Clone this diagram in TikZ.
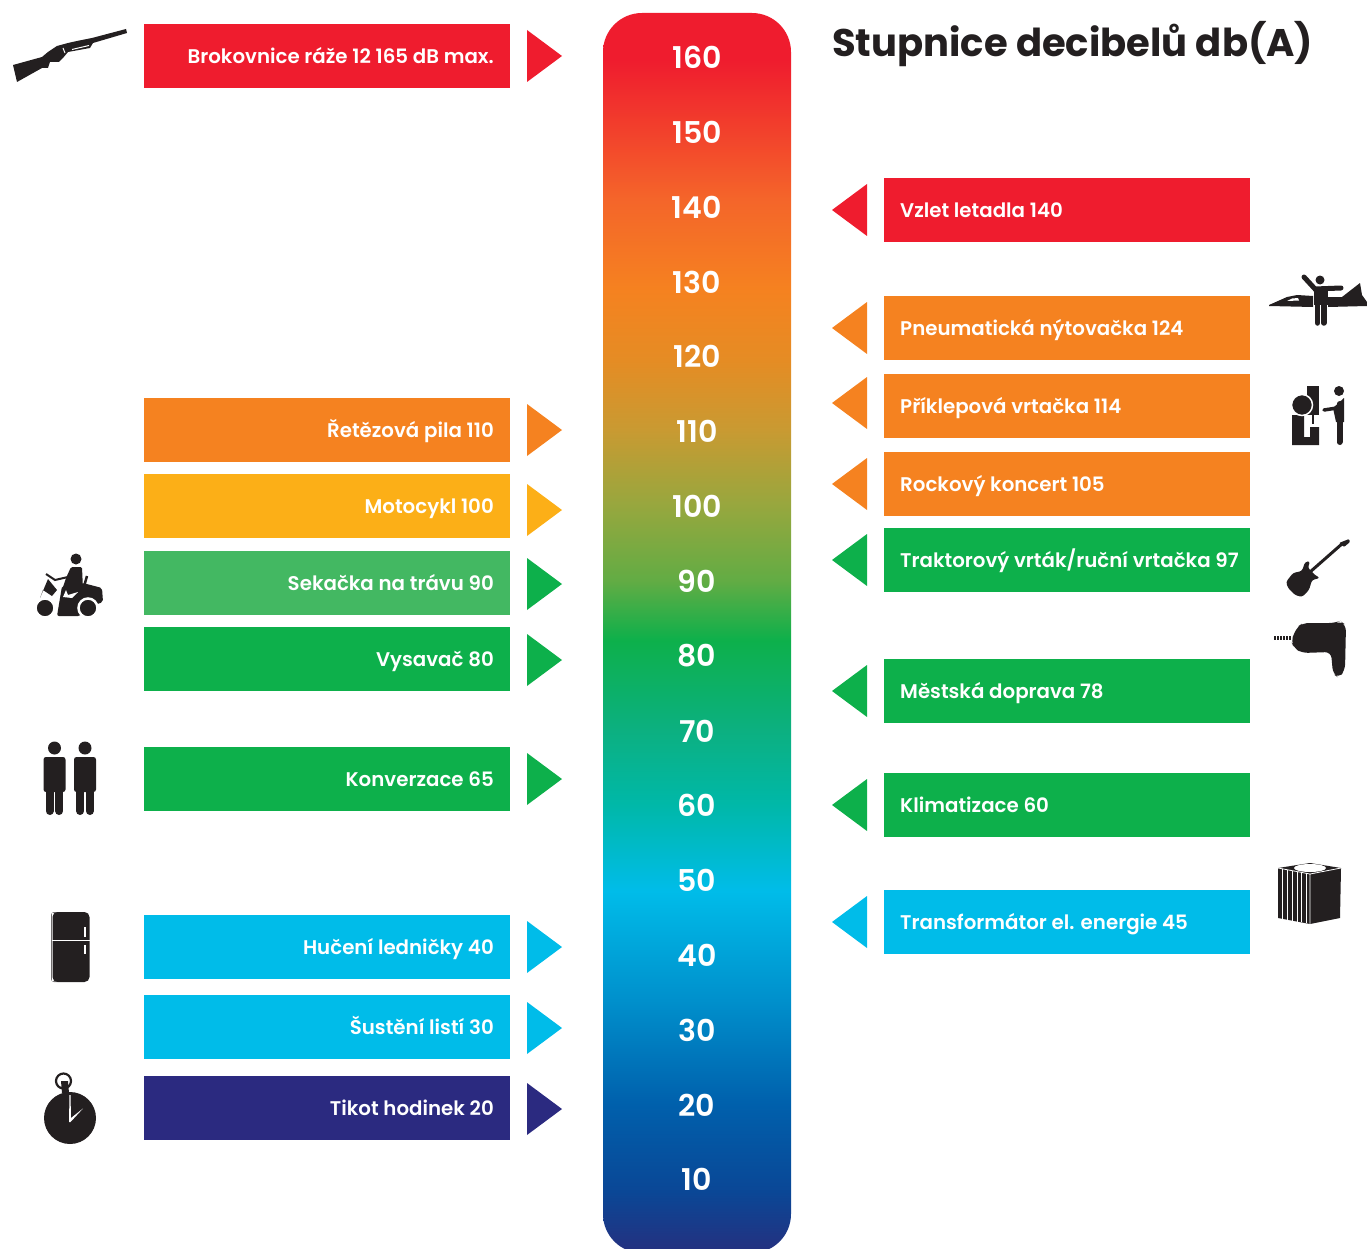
\documentclass[tikz,border=0pt]{standalone}
\usepackage{fontspec}
\setmainfont{Poppins}[BoldFont={Poppins SemiBold}]
\newfontfamily\titlefont{Poppins}[BoldFont={Poppins Bold}]
\definecolor{cred}{HTML}{EF1C2E}
\definecolor{corange}{HTML}{F58220}
\definecolor{cyellow}{HTML}{FCAF17}
\definecolor{clgreen}{HTML}{43B862}
\definecolor{cgreen}{HTML}{0DB04B}
\definecolor{ccyan}{HTML}{00BCE9}
\definecolor{cnavy}{HTML}{2B2A80}
\definecolor{cink}{HTML}{231F20}
\definecolor{g1}{HTML}{F2402C}
\definecolor{g2}{HTML}{F4652A}
\definecolor{g3}{HTML}{E58C24}
\definecolor{g4}{HTML}{C99A32}
\definecolor{g5}{HTML}{98A73E}
\definecolor{g6}{HTML}{62AC44}
\definecolor{g7}{HTML}{0CB080}
\definecolor{g8}{HTML}{00B8A8}
\definecolor{g9}{HTML}{0090CC}
\definecolor{g10}{HTML}{0060AC}
\definecolor{g11}{HTML}{0A4796}
\definecolor{g12}{HTML}{25307F}
\pgfdeclareverticalshading{scalebar}{100bp}{
color(0bp)=(g12);
color(25bp)=(g12);
color(27.5bp)=(g11);
color(31bp)=(g10);
color(35.2bp)=(g9);
color(39.6bp)=(ccyan);
color(43.1bp)=(g8);
color(46.1bp)=(g7);
color(49.7bp)=(cgreen);
color(52.1bp)=(g6);
color(55.2bp)=(g5);
color(58.2bp)=(g4);
color(61bp)=(g3);
color(63.8bp)=(corange);
color(67.5bp)=(g2);
color(70.3bp)=(g1);
color(73.1bp)=(cred);
color(100bp)=(cred)}
\tikzset{
 lbl/.style={font=\bfseries\fontsize{19.8}{24}\selectfont,text=white,inner sep=0pt},
 num/.style={font=\bfseries\fontsize{30}{32}\selectfont,text=white,inner sep=0pt},
 barbox/.style={minimum width=366pt,minimum height=64pt,inner sep=0pt,anchor=north west},
}
% name, y top, colour, text, triangle centre y, triangle colour
\newcommand{\lbar}[6]{%
 \node[barbox,fill=#3] (#1) at (144,#2) {};
 \node[lbl,anchor=base east] (#1t) at (494,#2+39.7) {#4};
 \fill[#6] (527,#5-26) -- (562,#5) -- (527,#5+26) -- cycle;
}
\newcommand{\rbar}[5]{%
 \node[barbox,fill=#3] (#1) at (884,#2) {};
 \node[lbl,anchor=base west] (#1t) at (900,#2+39.7) {#4};
 \fill[#3] (867,#5-26) -- (832,#5) -- (867,#5+26) -- cycle;
}
\begin{document}
\begin{tikzpicture}[x=1pt,y=-1pt]
\useasboundingbox (0,0) rectangle (1367,1249);
\begin{scope}
\clip (0,0) rectangle (1367,1249);
\shade[shading=scalebar,rounded corners=39pt] (603,13) rectangle (791,1253);
\end{scope}
\foreach \v/\y in {160/57,150/132,140/207,130/282,120/356,110/431,100/506,90/581,80/656,70/731,60/805,50/880,40/955,30/1030,20/1105,10/1179}
 \node[num] (n\v) at (697,\y) {\v};
\node[font=\titlefont\bfseries\fontsize{38.5}{46}\selectfont,text=cink,anchor=base west,inner sep=0pt] (title) at (832,56.5) {Stupnice decibelů db(A)};
\lbar{a}{24}{cred}{Brokovnice ráže 12 165 dB max.}{56}{cred}
\lbar{b}{398}{corange}{Řetězová pila 110}{430}{corange}
\lbar{c}{474}{cyellow}{Motocykl 100}{510}{cyellow}
\lbar{d}{551}{clgreen}{Sekačka na trávu 90}{584}{cgreen}
\lbar{e}{627}{cgreen}{Vysavač 80}{660}{cgreen}
\lbar{f}{747}{cgreen}{Konverzace 65}{779}{cgreen}
\lbar{g}{915}{ccyan}{Hučení ledničky 40}{947}{ccyan}
\lbar{h}{995}{ccyan}{Šustění listí 30}{1028}{ccyan}
\lbar{i}{1076}{cnavy}{Tikot hodinek 20}{1109}{cnavy}
\rbar{p}{178}{cred}{Vzlet letadla 140}{210}
\rbar{q}{296}{corange}{Pneumatická nýtovačka 124}{328}
\rbar{r}{374}{corange}{Příklepová vrtačka 114}{403}
\rbar{s}{452}{corange}{Rockový koncert 105}{484}
\rbar{t}{528}{cgreen}{Traktorový vrták/ruční vrtačka 97}{560}
\rbar{u}{659}{cgreen}{Městská doprava 78}{691}
\rbar{v}{773}{cgreen}{Klimatizace 60}{805}
\rbar{w}{890}{ccyan}{Transformátor el. energie 45}{922}
% shotgun
\fill[cink] (13,65) -- (17,82) -- (42,68) -- (48,68) -- (50,62) -- (54,62) -- (59,62) -- (63,58) -- (68,52) -- (90,48) -- (93,43) -- (127,33) -- (126,29) -- (92,38) -- (77,41) -- (68,43) -- (57,46) -- (48,52) -- (42,57) -- cycle;
\draw[white,line width=1pt] (63,48) -- (65,53) (72,49.5) -- (89,45.5);
% jet + man
\fill[cink] (1269,305) -- (1287,297) -- (1297,295) -- (1313,296) -- (1313,307) -- (1269,306) -- cycle;
\fill[cink] (1328,297) -- (1342,297) -- (1360,283) -- (1362,295) -- (1367,302) -- (1367,306) -- (1328,307) -- cycle;
\fill[white] (1287,301) -- (1292,298.5) -- (1298,298) -- (1299,300.5) -- cycle;
\fill[cink] (1320,280) circle (4.5);
\draw[cink,line width=5pt,line cap=round] (1304,277) -- (1315,289) -- (1341,288);
\fill[cink] (1314,287) rectangle (1328,305);
\draw[cink,line width=5.5pt,line cap=round] (1317.5,304) -- (1317.5,323) (1323.8,304) -- (1323.8,323);
% hammer drill
\fill[cink] (1307,386) rectangle (1319,415);
\fill[cink] (1292,415) -- (1304,415) -- (1304,437) -- (1310,437) -- (1310,427) -- (1319,427) -- (1319,445) -- (1292,445) -- cycle;
\draw[white,line width=1.5pt,fill=cink] (1302,405) circle (10.5);
\fill[cink] (1312,415) rectangle (1314,424);
\fill[cink] (1339,391) circle (5);
\draw[cink,line width=6pt,line cap=round] (1339.5,404) -- (1339.5,442);
\fill[cink] (1333,408) -- (1344,398) -- (1344,422) -- (1336,422) -- cycle;
\draw[cink,line width=3.5pt,line cap=round] (1324,410) -- (1337,408);
% guitar
\draw[cink,line width=3pt] (1310,572) -- (1343,543);
\fill[cink,rounded corners=1pt] (1339,543) -- (1349,539) -- (1350,542) -- (1344,547) -- cycle;
\fill[cink,rounded corners=2.5pt] (1286,582) -- (1293,573) -- (1302,571) -- (1305,562) -- (1310,561) -- (1308,568) -- (1315,575) -- (1320,578) -- (1312,580) -- (1309,590) -- (1302,597) -- (1295,595) -- (1288,588) -- cycle;
% drill
\fill[cink,rounded corners=6pt] (1291,641) -- (1297,627) -- (1303,623) -- (1335,623) -- (1340,621) -- (1346,625) -- (1345,670) -- (1339,678) -- (1333,674) -- (1331,652) -- (1302,653) -- (1294,648) -- cycle;
\draw[cink,line width=4.5pt,dash pattern=on 1.6pt off 1.4pt] (1274,638) -- (1292,638);
% mower
\fill[cink] (76,559) circle (5.5);
\fill[cink,rounded corners=1.5pt] (71,567) -- (82,567) -- (83,590) -- (62,590) -- (66,578) -- cycle;
\draw[cink,line width=2pt] (46,574) -- (55,580) -- (68,577);
\fill[cink] (48,579) -- (57,590) -- (52,596) -- (43,590) -- (40,598) -- cycle;
\draw[cink,line width=2.5pt] (87,576) -- (83,590);
\fill[cink,rounded corners=2pt] (57,616) -- (62,586) -- (83,583) -- (102,588) -- (103,602) -- (92,606) -- (80,616) -- cycle;
\fill[white] (63,597) -- (66,590) -- (68,595) -- (78,592) -- (72,598) -- cycle;
\draw[white,line width=2.5pt,fill=cink] (45,608) circle (9.5);
\draw[white,line width=2.5pt,fill=cink] (88,608) circle (9.5);
% two people
\foreach \xx in {54.5,85}{
 \fill[cink] (\xx,748) circle (6.5);
 \fill[cink,rounded corners=2.5pt] (\xx-11,757) rectangle (\xx+11,792);
 \draw[cink,line width=8pt,line cap=round] (\xx-4.8,790) -- (\xx-4.8,811) (\xx+4.8,790) -- (\xx+4.8,811);
}
% fridge
\fill[cink!65!white,rounded corners=3pt] (51,912) rectangle (60,982);
\fill[white] (52.2,913) rectangle (54,981);
\fill[cink,rounded corners=5pt] (52.5,912) rectangle (89.5,982);
\draw[white,line width=1pt] (52,940) -- (90,940);
\draw[white,line width=1.1pt] (85,927) -- (85,937) (85,945) -- (85,954);
% stopwatch
\fill[cink] (70,1118) circle (26);
\draw[cink,line width=2.2pt] (63.5,1081) circle (7.5);
\fill[cink] (61,1081) -- (68,1081) -- (69,1093) -- (62,1093) -- cycle;
\fill[white] (69.5,1095) -- (70.5,1095) -- (71,1118) -- (83,1108.5) -- (70.5,1122) -- (69,1122) -- cycle;
% transformer
\fill[cink] (1278,868) -- (1310,863) -- (1341,868) -- (1340,918) -- (1310,924) -- (1278,918) -- cycle;
\fill[white] (1310,868) ellipse (16 and 4);
\draw[white,line width=.8pt] (1278,868) -- (1310,874) -- (1341,868) (1310,874) -- (1310,924);
\foreach \xx in {1282,1287,1292,1297,1301,1306}
 \draw[white,line width=.9pt] (\xx,{868+(\xx-1278)*0.19}) -- (\xx,{918+(\xx-1278)*0.19});
\end{tikzpicture}
\end{document}
